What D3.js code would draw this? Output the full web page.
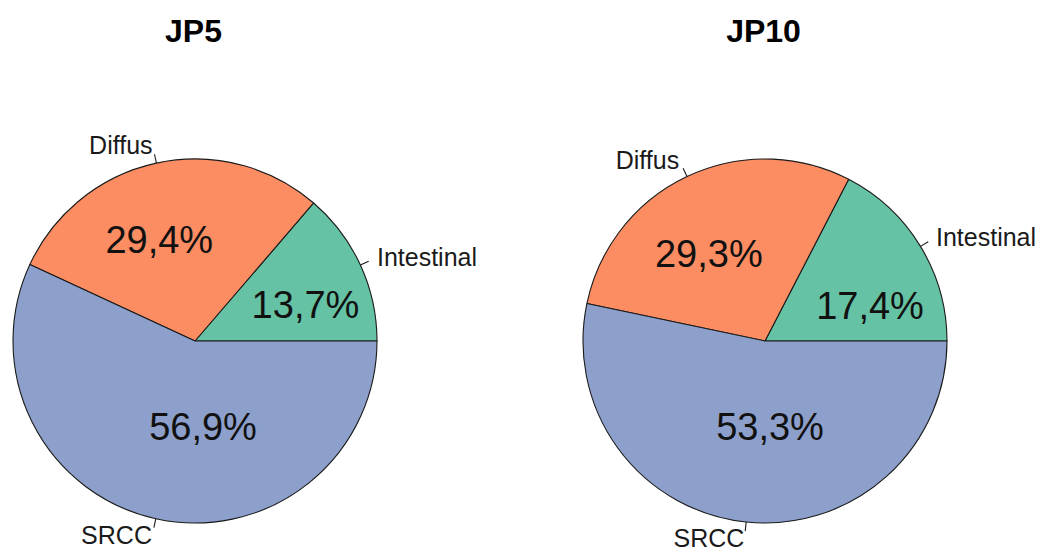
<!DOCTYPE html>
<html>
<head>
<meta charset="utf-8">
<script src="https://cdn.jsdelivr.net/npm/d3@7"></script>
<style>
  html, body { margin: 0; padding: 0; background: #ffffff; }
  svg { display: block; font-family: "Liberation Sans", Arial, Helvetica, sans-serif; }
</style>
</head>
<body>
<svg id="chart" width="1046" height="552"></svg>
<script>
// Histological type shares (%) for the two cohorts
const categories = ["Intestinal", "Diffus", "SRCC"];
const jp5Values = [13.7, 29.4, 56.9];
const jp10Values = [17.4, 29.3, 53.3];
const chartTitles = ["JP5", "JP10"];
const sliceColors = ["#66c2a5", "#fc8d62", "#8da0cb"];

const W = 1046, H = 552;
const radius = 182;
const centers = [[195, 341], [765, 341]];

// Placement of the percentage text inside each slice:
// [angle shift from slice mid-angle (deg, counter-clockwise), distance as a fraction of the radius]
const pctLayout = [
  [[-6.2, 0.64], [7.2, 0.59], [17.8, 0.47]],
  [[-12.4, 0.61], [7.4, 0.57], [9.3, 0.47]]
];

const svg = d3.select("#chart");

// Slices start at 3 o'clock and run counter-clockwise
const pie = d3.pie()
  .sort(null)
  .value(d => d)
  .startAngle(Math.PI / 2)
  .endAngle(Math.PI / 2 - 2 * Math.PI);

const arc = d3.arc().innerRadius(0).outerRadius(radius);
const fmtPct = v => v.toFixed(1).replace(".", ",") + "%";

// polar helper: math angle (ccw from +x) -> svg coords
const polar = (phi, r) => [r * Math.cos(phi), -r * Math.sin(phi)];
// d3 angle (cw from 12 o'clock) -> math angle
const toMath = a => Math.PI / 2 - a;

[jp5Values, jp10Values].forEach((values, ci) => {
  const [cx, cy] = centers[ci];
  const g = svg.append("g").attr("transform", `translate(${cx},${cy})`);
  const arcs = pie(values);

  g.selectAll("path.slice")
    .data(arcs)
    .join("path")
    .attr("class", "slice")
    .attr("d", arc)
    .attr("fill", (d, i) => sliceColors[i])
    .attr("stroke", "#1a1a1a")
    .attr("stroke-width", 1.1)
    .attr("stroke-linejoin", "round");

  // outer tick marks and category names
  arcs.forEach((d, i) => {
    const mid = toMath((d.startAngle + d.endAngle) / 2);
    const [x0, y0] = polar(mid, radius);
    const [x1, y1] = polar(mid, radius * 1.05);
    const [lx, ly] = polar(mid, radius * 1.1);
    g.append("line")
      .attr("x1", x0).attr("y1", y0)
      .attr("x2", x1).attr("y2", y1)
      .attr("stroke", "#1a1a1a")
      .attr("stroke-width", 1.1);
    g.append("text")
      .attr("x", lx).attr("y", ly)
      .attr("dy", ly > radius ? "0.28em" : "0.36em")
      .attr("text-anchor", lx < 0 ? "end" : "start")
      .attr("font-size", 25)
      .attr("fill", "#1a1a1a")
      .text(categories[i]);

    // percentage inside the slice
    const [dA, rf] = pctLayout[ci][i];
    const [px, py] = polar(mid + dA * Math.PI / 180, radius * rf);
    g.append("text")
      .attr("x", px).attr("y", py)
      .attr("dy", "0.36em")
      .attr("text-anchor", "middle")
      .attr("font-size", 38)
      .attr("fill", "#111111")
      .text(fmtPct(values[i]));
  });

  svg.append("text")
    .attr("x", cx - 1.5)
    .attr("y", 41.5)
    .attr("text-anchor", "middle")
    .attr("font-size", 32)
    .attr("font-weight", "bold")
    .attr("fill", "#000")
    .text(chartTitles[ci]);
});
</script>
</body>
</html>
